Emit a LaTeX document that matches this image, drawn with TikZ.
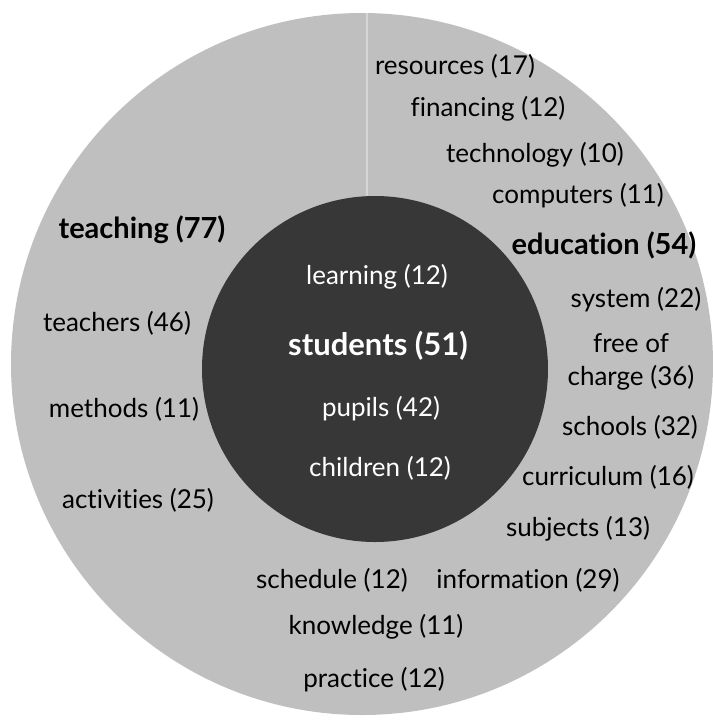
\documentclass[tikz,border=0pt]{standalone}
\usepackage{fontspec}
\setmainfont{Lato}[Ligatures=NoCommon]
\definecolor{ring}{RGB}{191,191,191}
\definecolor{kern}{RGB}{55,55,55}
\definecolor{trenner}{RGB}{214,214,214}
\tikzset{
  wort/.style={black, inner sep=0pt, font=\fontsize{13}{16.5}\selectfont},
  haupt/.style={wort, font=\fontsize{14.5}{16.5}\selectfont\bfseries},
  innen/.style={wort, white},
}
\begin{document}
\begin{tikzpicture}[x=0.5pt, y=-0.5pt]

    \useasboundingbox (0,0) rectangle (713,720);

    % rings
    \fill[ring] (362,364) circle[radius=351];
    \coordinate (oben) at (367,13);
    \coordinate (kante) at (367,196);
    \draw[trenner, line width=0.6pt] (oben) -- (kante);
    \fill[kern] (375,369) circle[radius=173];

    % education
    \node[wort] (resources) at (455,66) {resources (17)};
    \node[wort] (financing) at (488,109) {financing (12)};
    \node[wort] (technology) at (535,155) {technology (10)};
    \node[wort] (computers) at (578,196) {computers (11)};
    \node[haupt] (education) at (604,245) {education (54)};
    \node[wort] (system) at (636,300) {system (22)};
    \node[wort, align=center] (free) at (631,362) {free of\\charge (36)};
    \node[wort] (schools) at (630,427) {schools (32)};
    \node[wort] (curriculum) at (608,477) {curriculum (16)};
    \node[wort] (subjects) at (578,529) {subjects (13)};
    \node[wort] (information) at (528,580) {information (29)};

    % bottom
    \node[wort] (schedule) at (332,580) {schedule (12)};
    \node[wort] (knowledge) at (376,627) {knowledge (11)};
    \node[wort] (practice) at (374,680) {practice (12)};

    % teaching
    \node[haupt] (teaching) at (142,230) {teaching (77)};
    \node[wort] (teachers) at (117,323) {teachers (46)};
    \node[wort] (methods) at (124,409) {methods (11)};
    \node[wort] (activities) at (138,500) {activities (25)};

    % students
    \node[innen] (learning) at (377,277) {learning (12)};
    \node[innen, font=\fontsize{15.5}{16.5}\selectfont\bfseries] (students) at (378,346) {students (51)};
    \node[innen] (pupils) at (381,409) {pupils (42)};
    \node[innen] (children) at (380,468) {children (12)};

\end{tikzpicture}
\end{document}
